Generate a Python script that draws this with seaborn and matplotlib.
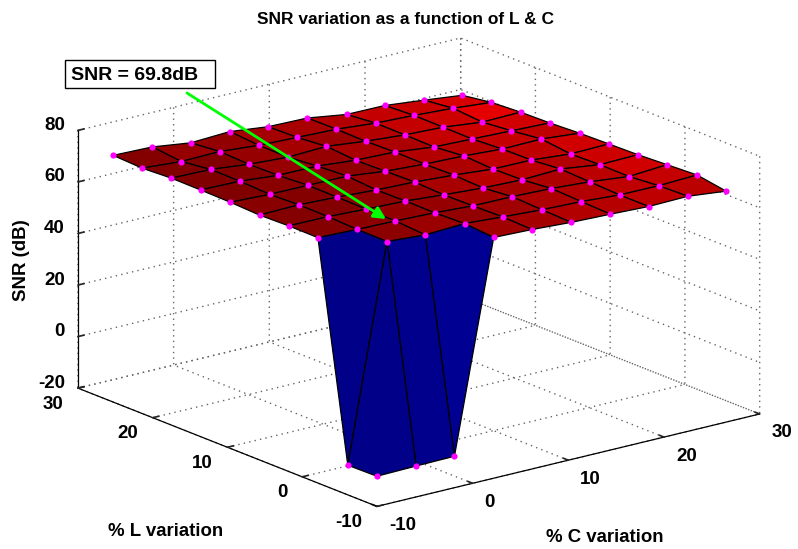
import matplotlib
matplotlib.use("Agg")
import matplotlib.pyplot as plt
from matplotlib.colors import Normalize
from matplotlib.patches import FancyArrowPatch, Rectangle
from mpl_toolkits.mplot3d import proj3d
import numpy as np
import seaborn as sns

# % variation of the two components, and SNR (dB) at each point (rows = L, cols = C)
l_var = [-10, -6.1, -2.1, 1.8, 5.7, 9.6, 13.6, 17.5, 21.4, 25.3]
c_var = [-10, -5.9, -1.9, 2.2, 6.2, 10.3, 14.4, 18.4, 22.5, 26.5]
snr = [
    [-8.3, -8.0, -7.8, 73.4, 72.9, 72.0, 71.5, 70.9, 71.2, 69.6],
    [-8.5, 74.6, 73.6, 74.3, 73.3, 72.4, 71.9, 70.9, 70.8, 71.4],
    [75.2, 74.7, 74.4, 73.9, 73.0, 72.9, 72.4, 71.4, 69.8, 70.8],
    [75.3, 75.2, 74.5, 74.0, 72.8, 71.8, 71.3, 71.9, 69.9, 70.2],
    [75.0, 75.3, 74.7, 73.8, 73.3, 72.3, 71.0, 70.9, 69.6, 69.9],
    [75.5, 74.9, 74.8, 74.7, 73.0, 72.1, 71.6, 70.7, 70.9, 69.6],
    [75.7, 75.4, 74.1, 74.0, 72.7, 72.2, 70.5, 70.0, 69.5, 69.0],
    [75.8, 75.5, 73.9, 73.0, 73.6, 71.9, 70.7, 70.1, 68.4, 68.7],
    [75.2, 74.1, 74.4, 73.1, 72.6, 72.1, 70.8, 70.2, 69.3, 68.0],
    [75.7, 75.3, 73.3, 74.0, 72.3, 72.0, 69.7, 69.6, 68.0, 66.3],
]
xy_ticks = [-10, 0, 10, 20, 30]
z_ticks = [-20, 0, 20, 40, 60, 80]

sns.set_theme(style="white")
plt.rcParams["font.family"] = ["Liberation Sans", "DejaVu Sans"]
plt.rcParams["font.weight"] = "bold"
plt.rcParams["text.color"] = "black"

W, H = 798, 549
fig = plt.figure(figsize=(W / 100, H / 100), dpi=100, facecolor="white")
side = 800
ax = fig.add_axes(
    [(408 - side / 2) / W, (H - 283 - side / 2) / H, side / W, side / H],
    projection="3d",
    proj_type="ortho",
)
ax.computed_zorder = False
ax.view_init(elev=18, azim=-128)
ax.set_box_aspect((1, 1, 0.558), zoom=0.896)
ax.patch.set_alpha(0)

X, Y = np.meshgrid(c_var, l_var)
Z = np.array(snr)
jet = matplotlib.colormaps["jet"]
colors = jet(Normalize(-9.2, 75.8)(Z))

ax.plot_surface(X, Y, Z, facecolors=colors, rstride=1, cstride=1, shade=False,
                edgecolor="black", linewidth=0.9, antialiased=True, zorder=3)
ax.scatter(X.ravel(), Y.ravel(), Z.ravel(), c="#ff00ff", s=20, linewidths=0,
           depthshade=False, zorder=4)

ax.set_xlim(-10, 30, view_margin=0)
ax.set_ylim(-10, 30, view_margin=0)
ax.set_zlim(-20, 80, view_margin=0)
ax.set_xticks(xy_ticks)
ax.set_yticks(xy_ticks)
ax.set_zticks(z_ticks)
ax.set_xticklabels([])
ax.set_yticklabels([])
ax.set_zticklabels([])

for axis in (ax.xaxis, ax.yaxis, ax.zaxis):
    axis.set_pane_color((1, 1, 1, 0))
    axis.pane.set_edgecolor((1, 1, 1, 0))
    axis.line.set_color("black")
    axis.line.set_linewidth(0.9)
    axis._axinfo["grid"].update(color="#666666", linestyle=(0, (1, 3)), linewidth=1.0)
    axis._axinfo["tick"].update(inward_factor=0.0, outward_factor=0.2)

ax.grid(True)


# tick labels sit at fixed pixel offsets from the tick, like the matlab ones
def tick_label(value, pos, dx, dy, ha):
    px, py, _ = proj3d.proj_transform(*pos, ax.get_proj())
    ax.annotate(str(value), xy=(px, py), xytext=(dx, dy), textcoords="offset pixels",
                ha=ha, va="center", fontsize=13.5, annotation_clip=False, zorder=6)


for t in xy_ticks:
    tick_label(t, (t, -10, -20), 12, -19, "left")
    tick_label(t, (-10, t, -20), -15, -16, "right")
for t in z_ticks:
    tick_label(t, (-10, 30, t), -13, 5, "right")

fig.text(405 / W, 1 - 19 / H, "SNR variation as a function of L & C", ha="center", va="center", fontsize=12.5)
fig.text(166 / W, 1 - 531 / H, "% L variation", ha="center", va="center", fontsize=13.4)
fig.text(605 / W, 1 - 538 / H, "% C variation", ha="center", va="center", fontsize=13.4)
fig.text(22 / W, 1 - 260 / H, "SNR (dB)", ha="center", va="center", rotation=90, fontsize=13.4)

fig.add_artist(Rectangle((65 / W, 1 - 87.5 / H), 150 / W, 27.5 / H, facecolor="white",
                         edgecolor="black", linewidth=1))
fig.text(71 / W, 1 - 75.5 / H, "SNR = 69.8dB", ha="left", va="center", fontsize=14)
fig.add_artist(FancyArrowPatch((187 / W, 1 - 93 / H), (386 / W, 1 - 219 / H),
                               transform=fig.transFigure, arrowstyle="-|>", color="#00ff00",
                               linewidth=2, mutation_scale=18, shrinkA=0, shrinkB=0))

fig.savefig("out.png", dpi=100)
